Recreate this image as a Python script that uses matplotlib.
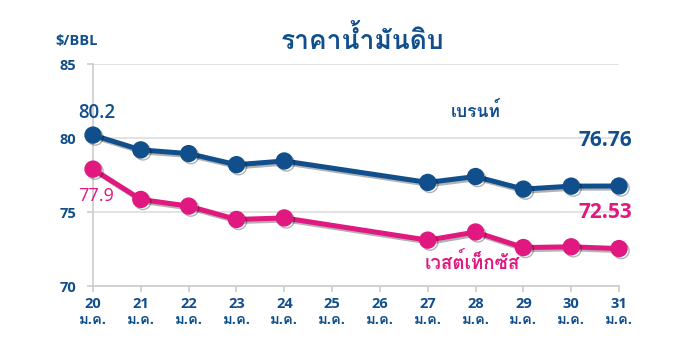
import numpy as np
import matplotlib
matplotlib.use('Agg')
import matplotlib.pyplot as plt
import matplotlib.patheffects as pe
from matplotlib import font_manager
from matplotlib.ft2font import FT2Font

# pick an installed font that has Thai glyphs, preferring one with a bold face
def thai_font():
    found = {}
    for f in font_manager.fontManager.ttflist:
        try:
            if 0x0E01 in FT2Font(f.fname).get_charmap():
                w = f.weight if isinstance(f.weight, int) else 400
                found.setdefault(f.name, []).append(w)
        except Exception:
            pass
    if not found:
        return 'DejaVu Sans', False
    bold = [n for n, ws in found.items() if max(ws) >= 600]
    if bold:
        return bold[0], True
    return list(found)[0], False


# latin family that really has a bold face
def latin_font():
    weights = {}
    for f in font_manager.fontManager.ttflist:
        w = f.weight if isinstance(f.weight, int) else 400
        weights.setdefault(f.name, []).append(w)
    for n in ['Open Sans', 'Noto Sans', 'Lato', 'Roboto', 'Inter', 'Liberation Sans']:
        if n in weights and max(weights[n]) >= 600:
            return n
    return 'DejaVu Sans'


thai, has_bold = thai_font()
latin = latin_font()
plt.rcParams['font.family'] = [latin, thai, 'DejaVu Sans']

# data
days = ['20', '21', '22', '23', '24', '25', '26', '27', '28', '29', '30', '31']
month = 'ม.ค.'
brent = [80.2, 79.2, 78.95, 78.2, 78.45, None, None, 77.0, 77.4, 76.55, 76.75, 76.76]
wti = [77.9, 75.85, 75.4, 74.5, 74.6, None, None, 73.1, 73.65, 72.6, 72.65, 72.53]
yticks = [70, 75, 80, 85]

blue = '#104f8c'
pink = '#e0187f'


def bold(t, col, w=0.9):
    # thicken glyphs, faked with a stroke when no bold face exists
    if has_bold:
        t.set_fontweight('bold')
    else:
        t.set_path_effects([pe.withStroke(linewidth=w, foreground=col)])
    return t


fig = plt.figure(figsize=(6.81, 3.56), dpi=100)
ax = fig.add_axes([0.1366, 0.1966, 0.7724, 0.6234])

x = np.arange(len(days))
shadow = [pe.SimpleLineShadow(offset=(1.5, -1.5), shadow_color='black', alpha=0.3), pe.Normal()]
for vals, col in [(brent, blue), (wti, pink)]:
    xs = [i for i, v in zip(x, vals) if v is not None]
    ys = [v for v in vals if v is not None]
    ax.plot(xs, ys, color=col, lw=3.6, marker='o', ms=11.5, zorder=3,
            path_effects=shadow, clip_on=False)

ax.set_xlim(0, len(days) - 1)
ax.set_ylim(70, 85)
ax.set_yticks(yticks)
ax.set_yticklabels([str(v) for v in yticks])
ax.set_xticks(x)
ax.set_xticklabels([d + '\n' + month for d in days], linespacing=1.2)
ax.tick_params(axis='both', colors='#cccccc', labelcolor=blue, labelsize=10.5, length=4, width=1.2)
for lab in ax.get_xticklabels() + ax.get_yticklabels():
    lab.set_fontweight('bold')
ax.tick_params(axis='y', pad=8)
ax.tick_params(axis='x', pad=4)
ax.grid(axis='y', color='#dddddd', lw=1.2)
ax.set_axisbelow(True)
for s in ['top', 'right']:
    ax.spines[s].set_visible(False)
for s in ['left', 'bottom']:
    ax.spines[s].set_color('#cccccc')
    ax.spines[s].set_linewidth(1.2)

# labels
ax.text(0.07, 81.7, '80.2', color=blue, fontsize=13.5, ha='center', va='center', fontweight='semibold')
ax.text(0.07, 76.1, '77.9', color=pink, fontsize=13, ha='center', va='center')
ax.text(11.27, 79.85, '76.76', color=blue, fontsize=15, ha='right', va='center', fontweight='bold')
ax.text(11.27, 75.0, '72.53', color=pink, fontsize=15, ha='right', va='center', fontweight='bold')
bold(ax.text(8.01, 81.8, 'เบรนท์', color=blue, fontsize=12.5, ha='center', va='center'), blue)
bold(ax.text(7.93, 71.5, 'เวสต์เท็กซัส', color=pink, fontsize=13.5, ha='center', va='center'), pink)

bold(fig.text(0.532, 0.885, 'ราคาน้ำมันดิบ', color=blue, fontsize=19, ha='center', va='center'), blue, 1.0)
fig.text(0.113, 0.885, '$/BBL', color=blue, fontsize=10.5, ha='center', va='center', fontweight='bold')

fig.savefig('out.png', dpi=100)
